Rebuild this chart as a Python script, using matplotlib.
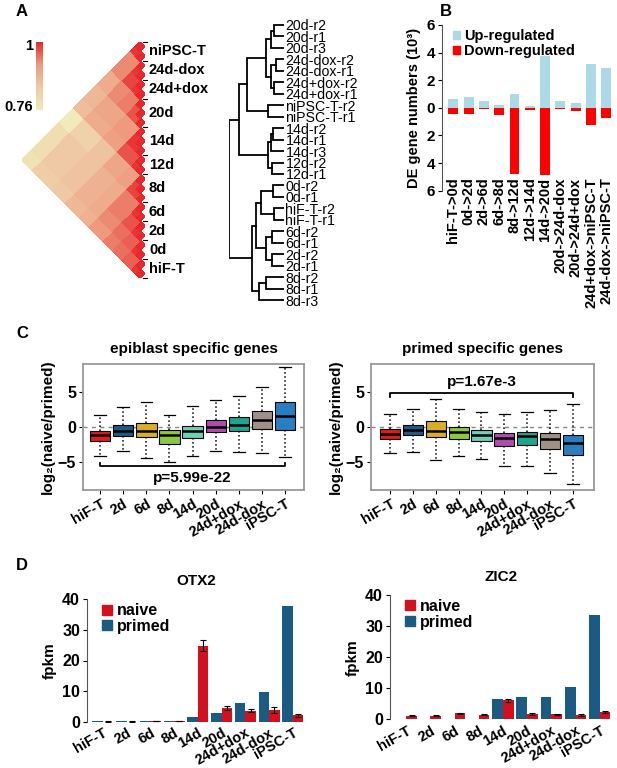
import numpy as np
import matplotlib
matplotlib.use('Agg')
import matplotlib.pyplot as plt
from matplotlib.colors import LinearSegmentedColormap, Normalize
from matplotlib.cm import ScalarMappable
from matplotlib.patches import Patch

plt.rcParams['font.family'] = ['Liberation Sans', 'DejaVu Sans']
plt.rcParams['font.weight'] = 'bold'
plt.rcParams['axes.labelweight'] = 'bold'
plt.rcParams['axes.titleweight'] = 'bold'
plt.rcParams['font.size'] = 10.5

# ---------------- data ----------------
# Panel A: correlation heatmap (groups bottom -> top)
heat_groups = ['hiF-T', '0d', '2d', '6d', '8d', '12d', '14d', '20d', '24d+dox', '24d-dox', 'niPSC-T']
heat_reps = [2, 2, 2, 2, 3, 2, 3, 3, 2, 2, 2]
corr_upper = [
    [0.99, 0.96, 0.95, 0.94, 0.92, 0.88, 0.87, 0.84, 0.83, 0.83, 0.78],
    [0.99, 0.96, 0.95, 0.93, 0.89, 0.88, 0.85, 0.84, 0.84, 0.79],
    [0.99, 0.97, 0.94, 0.89, 0.88, 0.85, 0.84, 0.84, 0.79],
    [0.99, 0.94, 0.89, 0.88, 0.85, 0.84, 0.84, 0.79],
    [0.98, 0.91, 0.90, 0.85, 0.82, 0.82, 0.76],
    [0.99, 0.97, 0.91, 0.89, 0.89, 0.86],
    [0.99, 0.92, 0.90, 0.90, 0.87],
    [0.97, 0.94, 0.93, 0.89],
    [0.99, 0.98, 0.93],
    [0.99, 0.93],
    [0.99],
]
corr_min, corr_max = 0.76, 1.0

# Panel A: dendrogram (height, upper child, lower child)
tree = (1.0,
        (0.82,
         (0.67,
          (0.33,
           (0.24, (0.18, '20d-r2', '20d-r1'), '20d-r3'),
           (0.24, (0.15, '24d-dox-r2', '24d-dox-r1'), (0.18, '24d+dox-r2', '24d+dox-r1'))),
          (0.30, 'niPSC-T-r2', 'niPSC-T-r1')),
         (0.30,
          (0.24, (0.20, '14d-r2', '14d-r1'), '14d-r3'),
          (0.21, '12d-r2', '12d-r1'))),
        (0.58,
         (0.51,
          (0.42, (0.20, '0d-r2', '0d-r1'), (0.18, 'hiF-T-r2', 'hiF-T-r1')),
          (0.33, (0.21, '6d-r2', '6d-r1'), (0.21, '2d-r2', '2d-r1'))),
         (0.45, (0.33, '8d-r2', '8d-r1'), '8d-r3')))

# Panel B
de_pairs = ['hiF-T->0d', '0d->2d', '2d->6d', '6d->8d', '8d->12d', '12d->14d', '14d->20d',
            '20d->24d-dox', '20d->24d+dox', '24d+dox->niPSC-T', '24d-dox->niPSC-T']
de_up = [0.65, 0.80, 0.53, 0.22, 1.01, 0.17, 3.73, 0.53, 0.34, 3.18, 2.89]
de_down = [0.43, 0.43, 0.07, 0.55, 4.77, 0.19, 4.87, 0.10, 0.20, 1.23, 0.72]

# Panel C
box_groups = ['hiF-T', '2d', '6d', '8d', '14d', '20d', '24d+dox', '24d-dox', 'iPSC-T']
box_colors = ['#E31A1C', '#1F5A85', '#D9AE25', '#8DC63F', '#6FD0B8', '#B04CAB', '#1FA48F', '#A09088', '#2A7DBE']
epi_whislo = [-4.15, -3.4, -4.4, -5.0, -4.15, -3.35, -3.6, -3.7, -4.25]
epi_q1 = [-2.0, -1.3, -1.4, -2.35, -1.55, -0.75, -0.5, -0.25, -0.4]
epi_med = [-1.1, -0.5, -0.6, -1.2, -0.6, 0.0, 0.3, 1.05, 1.5]
epi_q3 = [-0.5, 0.33, 0.5, -0.4, 0.2, 1.05, 1.4, 2.2, 3.5]
epi_whishi = [1.75, 2.8, 3.5, 1.65, 2.9, 3.8, 4.35, 5.6, 8.45]
pri_whislo = [-3.7, -3.6, -4.6, -4.15, -4.5, -5.55, -5.55, -6.5, -8.0]
pri_q1 = [-1.65, -1.2, -1.4, -1.65, -2.0, -2.75, -2.6, -3.1, -3.9]
pri_med = [-1.0, -0.4, -0.5, -0.7, -1.1, -1.5, -1.3, -1.65, -2.25]
pri_q3 = [-0.25, 0.33, 0.8, 0.0, -0.4, -0.85, -0.7, -0.85, -1.1]
pri_whishi = [1.9, 2.6, 4.0, 2.6, 2.15, 1.8, 2.1, 2.35, 3.25]

# Panel D
gene_groups = ['hiF-T', '2d', '6d', '8d', '14d', '20d', '24d+dox', '24d-dox', 'iPSC-T']
otx2_primed = [0.1, 0.1, 0.1, 0.1, 1.6, 3.0, 6.2, 9.6, 37.7]
otx2_naive = [0.05, 0.05, 0.2, 0.3, 24.8, 4.5, 3.6, 3.8, 2.1]
otx2_naive_err = [0.02, 0.02, 0.05, 0.08, 1.8, 0.6, 0.5, 1.0, 0.5]
zic2_primed = [0.05, 0.05, 0.05, 0.1, 6.4, 7.1, 7.1, 10.3, 33.5]
zic2_naive = [1.2, 1.2, 1.9, 1.5, 6.1, 1.7, 1.6, 1.4, 2.4]
zic2_naive_err = [0.1, 0.1, 0.15, 0.2, 0.4, 0.3, 0.2, 0.2, 0.3]

naive_color = '#D2101E'
primed_color = '#1B5A82'

# ---------------- figure ----------------
W, H = 617, 768
fig = plt.figure(figsize=(W / 100, H / 100), dpi=100)


def box(l, t, r, b):
    return [l / W, 1 - b / H, (r - l) / W, (b - t) / H]


def fig_text(x, y, s, **kw):
    fig.text(x / W, 1 - y / H, s, **kw)


# ---- Panel A heatmap ----
cmap = LinearSegmentedColormap.from_list('corr', ['#F0EBB8', '#EFC9A5', '#ED9A7E', '#E8282B'])
norm = Normalize(corr_min, corr_max)
ng = len(heat_groups)
G = np.zeros((ng, ng))
for i, row in enumerate(corr_upper):
    for k, v in enumerate(row):
        G[i, i + k] = v
        G[i + k, i] = v
gi = np.repeat(np.arange(ng), heat_reps)
C = G[np.ix_(gi, gi)]
np.fill_diagonal(C, 1.0)
N = len(gi)
P, Q = np.meshgrid(np.arange(N + 1), np.arange(N + 1), indexing='ij')
Xm = -(Q - P) / 2.0
Ym = (P + Q) / 2.0
I, J = np.meshgrid(np.arange(N), np.arange(N), indexing='ij')
Cm = np.ma.masked_where(I > J, C)

cell = 236 / N
axA = fig.add_axes(box(22, 42, 22 + 13 * cell, 278))
axA.pcolormesh(Xm, Ym, Cm, cmap=cmap, norm=norm, shading='flat', edgecolors='face', linewidth=0.2)
axA.set_xlim(-N / 2, 0.5)
axA.set_ylim(0, N)
axA.axis('off')
bounds = np.concatenate([[0], np.cumsum(heat_reps)])
for b in bounds:
    axA.plot([0.3, 0.75], [b, b], color='k', lw=0.8, clip_on=False)
mids = (bounds[:-1] + bounds[1:]) / 2
for g, m in zip(heat_groups, mids):
    axA.text(0.95, m, g, ha='left', va='center', fontsize=10.5, clip_on=False)

cax = fig.add_axes(box(36, 42, 43, 110))
cb = fig.colorbar(ScalarMappable(norm=norm, cmap=cmap), cax=cax)
cb.set_ticks([])
cb.outline.set_visible(False)
fig_text(33, 46, '1', ha='right', va='center', fontsize=10.5)
fig_text(33, 107, '0.76', ha='right', va='center', fontsize=10.5)
fig_text(16, 12, 'A', ha='left', va='center', fontsize=12)

# ---- Panel A dendrogram ----
leaves = []


def collect(node):
    if isinstance(node, str):
        leaves.append(node)
        return
    collect(node[1])
    collect(node[2])


collect(tree)
leaf_pos = {name: k for k, name in enumerate(leaves)}
axT = fig.add_axes(box(229, 25 - 11.46 / 2, 284, 300 + 11.46 / 2))


def draw(node):
    if isinstance(node, str):
        return 0.0, float(leaf_pos[node])
    h = node[0]
    h1, y1 = draw(node[1])
    h2, y2 = draw(node[2])
    axT.plot([h1, h, h, h2], [y1, y1, y2, y2], color='k', lw=1.3, solid_joinstyle='miter')
    return h, (y1 + y2) / 2


draw(tree)
axT.set_xlim(1.0, 0.0)
axT.set_ylim(len(leaves) - 0.5, -0.5)
for s in axT.spines.values():
    s.set_visible(False)
axT.set_xticks([])
axT.yaxis.tick_right()
axT.set_yticks(range(len(leaves)))
axT.set_yticklabels(leaves, fontweight='normal', fontsize=10.2)
axT.tick_params(axis='y', length=0, pad=1)

# ---- Panel B ----
axB = fig.add_axes(box(441.7, 25, 615.5, 190.7))
xb = np.arange(len(de_pairs))
axB.bar(xb, de_up, width=0.65, color='#ADD8E6', label='Up-regulated')
axB.bar(xb, -np.array(de_down), width=0.65, color='#FF0000', label='Down-regulated')
axB.set_ylim(-6, 6)
axB.set_xlim(-0.76, 10.6)
yt = np.arange(-6, 7, 2)
axB.set_yticks(yt)
axB.set_yticklabels([str(abs(v)) for v in yt])
axB.tick_params(axis='y', length=3, width=0.8, pad=2, colors='k', labelsize=11)
for side in ['top', 'right', 'bottom']:
    axB.spines[side].set_visible(False)
axB.spines['left'].set_color('#555555')
axB.set_xticks([])
for xi, lab in zip(xb, de_pairs):
    axB.text(xi, -5.05, lab, rotation=90, ha='center', va='top', fontsize=10.5, clip_on=False)
axB.set_ylabel('DE gene numbers (10³)', fontsize=10.5, labelpad=4)
axB.legend(handles=[Patch(color='#ADD8E6', label='Up-regulated'), Patch(color='#FF0000', label='Down-regulated')],
           loc='upper left', bbox_to_anchor=(0.03, 1.01), frameon=False, handlelength=0.5, handleheight=0.5,
           handletextpad=0.3, labelspacing=0.05, borderaxespad=0, fontsize=10.5)
fig_text(440, 12, 'B', ha='left', va='center', fontsize=12)

# ---- Panel C ----
fig_text(16, 333, 'C', ha='left', va='center', fontsize=12)


def boxpanel(rect, xlim, wl, q1, md, q3, wh, title, br_y, br_tick, ptxt, ptxt_y):
    ax = fig.add_axes(rect)
    stats = []
    for k in range(len(box_groups)):
        stats.append(dict(whislo=wl[k], q1=q1[k], med=md[k], q3=q3[k], whishi=wh[k], fliers=[]))
    pos = np.arange(1, len(box_groups) + 1)
    ax.axhline(0, color='#888888', ls=(0, (3, 3)), lw=1, zorder=0)
    bp = ax.bxp(stats, positions=pos, widths=0.88, patch_artist=True, showfliers=False,
                boxprops=dict(edgecolor='k', linewidth=0.8),
                medianprops=dict(color='k', linewidth=1.8),
                whiskerprops=dict(color='k', linestyle=':', linewidth=1.1),
                capprops=dict(color='k', linewidth=0.9), capwidths=0.5)
    for patch, c in zip(bp['boxes'], box_colors):
        patch.set_facecolor(c)
    ax.plot([pos[0], pos[0], pos[-1], pos[-1]], [br_tick, br_y, br_y, br_tick], color='k', lw=1.3)
    ax.text((pos[0] + pos[-1]) / 2, ptxt_y, ptxt, ha='center', va='center', fontsize=11)
    ax.set_xlim(*xlim)
    ax.set_ylim(-8.9, 8.9)
    ax.set_yticks([5, 0, -5])
    ax.set_xticks(pos)
    ax.set_xticklabels(box_groups, rotation=30, ha='right', rotation_mode='anchor', fontsize=10.5)
    ax.tick_params(axis='both', length=3, width=0.8, colors='k', pad=2)
    ax.tick_params(axis='y', labelsize=11.5)
    for s in ax.spines.values():
        s.set_color('#999999')
        s.set_linewidth(1.3)
    ax.set_ylabel('log₂(naive/primed)', fontsize=11, labelpad=2)
    ax.set_title(title, fontsize=11, pad=8)
    return ax


boxpanel(box(83, 364, 304, 490), (0.26, 9.82), epi_whislo, epi_q1, epi_med, epi_q3, epi_whishi,
         'epiblast specific genes', -5.55, -5.1, 'p=5.99e-22', -7.2)
boxpanel(box(371, 364, 594, 490), (0.17, 9.92), pri_whislo, pri_q1, pri_med, pri_q3, pri_whishi,
         'primed specific genes', 4.8, 4.25, 'p=1.67e-3', 6.3)

# ---- Panel D ----
fig_text(16, 566, 'D', ha='left', va='center', fontsize=12)


def barpanel(rect, xlim, primed, naive, naive_err, title):
    ax = fig.add_axes(rect)
    x = np.arange(len(gene_groups))
    w = 0.44
    ax.bar(x - w / 2, primed, width=w, color=primed_color, label='primed')
    ax.bar(x + w / 2, naive, width=w, color=naive_color, label='naive',
           yerr=naive_err, error_kw=dict(ecolor='k', elinewidth=0.8, capsize=2, capthick=0.8))
    ax.set_ylim(0, 40)
    ax.set_xlim(*xlim)
    ax.set_yticks([0, 10, 20, 30, 40])
    ax.set_xticks(x)
    ax.set_xticklabels(gene_groups, rotation=30, ha='right', rotation_mode='anchor', fontsize=10.5)
    ax.tick_params(axis='x', length=0, pad=3)
    ax.tick_params(axis='y', length=3, width=0.8, labelsize=11.5, pad=2)
    for side in ['top', 'right', 'bottom']:
        ax.spines[side].set_visible(False)
    ax.spines['left'].set_color('#555555')
    ax.set_ylabel('fpkm', fontsize=11, labelpad=4)
    ax.set_title(title, fontsize=11, pad=10)
    ax.legend(handles=[Patch(color=naive_color, label='naive'), Patch(color=primed_color, label='primed')],
              loc='upper left', bbox_to_anchor=(0.04, 1.02), frameon=False, handlelength=0.6,
              handleheight=0.6, handletextpad=0.3, labelspacing=0.05, borderaxespad=0, fontsize=11.5)
    return ax


barpanel(box(87, 599.3, 306, 721.7), (-0.67, 8.55), otx2_primed, otx2_naive, otx2_naive_err, 'OTX2')
barpanel(box(390, 595, 613, 719.3), (-0.67, 8.55), zic2_primed, zic2_naive, zic2_naive_err, 'ZIC2')

fig.savefig('out.png', dpi=100)
